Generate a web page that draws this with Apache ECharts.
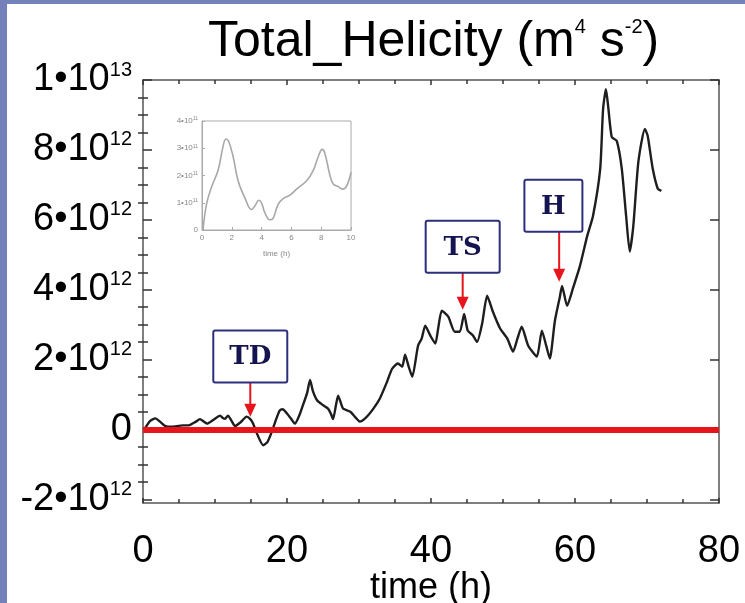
<!DOCTYPE html>
<html>
<head>
<meta charset="utf-8">
<script src="https://cdn.jsdelivr.net/npm/echarts@6/dist/echarts.min.js"></script>
<style>
  html, body { margin: 0; padding: 0; background: #ffffff; }
  #chart { width: 745px; height: 603px; }
</style>
</head>
<body>
<div id="chart"></div>
<script>
// ---------------- DATA ----------------
// Main curve: time in hours, total helicity in units of 1e12 m^4 s^-2
const HOURS = [0.0, 0.3, 1.0, 1.7, 2.4, 3.1, 4.0, 4.7, 5.6, 6.5, 7.3, 7.9, 8.5, 8.9, 9.8, 10.7, 11.1, 11.4, 11.8, 12.3,
  12.8, 13.5, 14.4, 14.9, 15.3, 15.9, 16.7, 17.3, 17.9, 18.5, 19.0, 19.4, 20.0, 20.6, 21.1, 21.7, 22.2, 22.8, 23.2, 23.6,
  24.2, 25.0, 25.7, 26.1, 26.4, 26.8, 27.1, 27.5, 27.8, 28.8, 29.5, 30.1, 31.0, 32.0, 32.9, 33.9, 34.6, 35.4, 36.0, 36.4,
  36.9, 37.4, 38.2, 38.7, 39.2, 39.9, 40.6, 41.0, 41.5, 42.4, 43.3, 44.0, 44.6, 45.1, 45.8, 46.4, 47.1, 47.8, 48.6, 49.6,
  50.6, 51.4, 52.0, 52.6, 53.5, 54.7, 55.4, 56.0, 56.5, 57.2, 57.9, 58.2, 58.9, 59.7, 60.7, 61.7, 62.5, 63.5, 63.9, 64.3,
  64.6, 65.1, 65.8, 66.5, 67.1, 67.6, 68.1, 68.8, 69.7, 70.1, 70.8, 71.5, 72.0];
const HELICITY = [0.0, 0.05, 0.25, 0.32, 0.22, 0.10, 0.08, 0.10, 0.12, 0.13, 0.22, 0.30, 0.22, 0.17, 0.28, 0.40, 0.33, 0.31, 0.40, 0.25,
  0.10, 0.20, 0.37, 0.30, 0.17, -0.15, -0.45, -0.35, -0.06, 0.30, 0.55, 0.58, 0.46, 0.30, 0.17, 0.40, 0.69, 1.05, 1.42, 1.10,
  0.83, 0.70, 0.60, 0.45, 0.30, 0.70, 0.97, 0.75, 0.60, 0.51, 0.35, 0.23, 0.35, 0.60, 0.89, 1.37, 1.74, 1.89, 1.80, 2.14,
  1.80, 1.51, 2.40, 2.60, 2.97, 2.69, 2.46, 2.90, 3.40, 3.23, 2.80, 2.80, 3.31, 2.83, 2.70, 2.51, 3.03, 3.83, 3.37, 2.89,
  2.60, 2.23, 2.60, 2.94, 2.40, 2.09, 2.83, 2.40, 2.03, 3.10, 3.80, 4.11, 3.54, 4.03, 4.69, 5.54, 6.11, 7.46, 9.17, 9.74,
  9.26, 8.37, 8.26, 7.46, 6.11, 5.09, 5.83, 7.66, 8.60, 8.40, 7.46, 6.89, 6.83];

// Inset: first 10 hours, in units of 1e11 m^4 s^-2
const INSET_HOURS = [0.07, 0.3, 0.63, 1.08, 1.41, 1.6, 1.79, 2.09, 2.42, 2.87, 3.32, 3.54, 3.81, 3.99, 4.22, 4.55,
  4.78, 5.11, 5.45, 5.9, 6.35, 7.02, 7.47, 7.8, 8.07, 8.25, 8.59, 8.81, 9.15, 9.44, 9.71, 10.0];
const INSET_HELICITY = [0.0, 0.94, 1.56, 2.19, 3.06, 3.34, 3.25, 2.69, 1.81, 1.19, 0.75, 0.87, 1.09, 1.0, 0.63, 0.375,
  0.44, 0.94, 1.15, 1.28, 1.5, 1.81, 2.19, 2.69, 2.96, 2.81, 2.0, 1.69, 1.59, 1.5, 1.62, 2.12];

// Tick labels
const Y_TICKS = [-2, 0, 2, 4, 6, 8, 10];
const Y_TICK_LABELS = ['-2•10^12', '0', '2•10^12', '4•10^12', '6•10^12', '8•10^12', '1•10^13'];
const INSET_Y_TICKS = [0, 1, 2, 3, 4];
const INSET_Y_TICK_LABELS = ['0', '1•10^11', '2•10^11', '3•10^11', '4•10^11'];

// Event annotations
const EVENTS = ['TD', 'TS', 'H'];
const EVENT_HOURS = [14.9, 44.4, 57.8];
const EVENT_TIP = [0.37, 3.43, 4.23];
const EVENT_BOX_HOURS = [14.9, 44.4, 57.0];
const EVENT_BOX_LEVEL = [2.09, 5.23, 6.4];

// ---------------- CHART ----------------
const FONT = '"Liberation Sans", Arial, sans-serif';
function sup(lbl) {
  const parts = lbl.split('^');
  return parts.length > 1 ? '{b|' + parts[0] + '}{s|' + parts[1] + '}' : '{b|' + parts[0] + '}';
}
const minorTicks = [];
for (let v = -2; v <= 10; v += 0.5) { if (Y_TICKS.indexOf(v) < 0) minorTicks.push(v); }

const chart = echarts.init(document.getElementById('chart'), null, { renderer: 'canvas' });
const AXIS_COLOR = '#555';
const mainYBase = {
  type: 'value', gridIndex: 0, min: -2.1, max: 10, splitLine: { show: false }
};
const option = {
  backgroundColor: '#ffffff',
  animation: false,
  title: {
    text: 'Total_Helicity (m{s|4} s{s|-2})',
    left: 203, top: 12,
    textStyle: {
      fontFamily: FONT, fontSize: 50, fontWeight: 'normal', color: '#000',
      rich: {
        s: { fontSize: 20, verticalAlign: 'top', fontFamily: FONT, color: '#000', padding: [0, 0, 20, 0] }
      }
    }
  },
  grid: [
    { left: 143, right: 26, top: 80, bottom: 100, show: false, outerBoundsMode: 'none', containLabel: false },
    { left: 202, top: 121, width: 149, height: 109, show: true, borderColor: '#aaa', borderWidth: 1, backgroundColor: '#fff', outerBoundsMode: 'none', containLabel: false }
  ],
  graphic: [
    { type: 'rect', z: 100, shape: { x: 0, y: 0, width: 745, height: 4 }, style: { fill: '#7481bb' } },
    { type: 'rect', z: 100, shape: { x: 0, y: 0, width: 7, height: 603 }, style: { fill: '#7481bb' } }
  ],
  xAxis: [
    {
      type: 'value', gridIndex: 0, min: 0, max: 80, interval: 20, position: 'bottom',
      axisLine: { show: true, onZero: false, lineStyle: { color: AXIS_COLOR, width: 1.5 } },
      axisTick: { show: true, inside: true, length: 5, lineStyle: { color: '#333', width: 1.5 } },
      minorTick: { show: true, splitNumber: 4, length: 4, lineStyle: { color: '#333', width: 1.5 } },
      splitLine: { show: false },
      axisLabel: { fontSize: 38, color: '#000', fontFamily: FONT, margin: 30 },
      name: 'time (h)', nameLocation: 'middle', nameGap: 67, nameMoveOverlap: false,
      nameTextStyle: { fontSize: 36, color: '#000', fontFamily: FONT }
    },
    {
      type: 'value', gridIndex: 0, min: 0, max: 80, interval: 20, position: 'top',
      axisLine: { show: true, onZero: false, lineStyle: { color: AXIS_COLOR, width: 1.5 } },
      axisTick: { show: true, inside: true, length: 5, lineStyle: { color: '#333', width: 1.5 } },
      minorTick: { show: true, splitNumber: 4, length: 4, lineStyle: { color: '#333', width: 1.5 } },
      splitLine: { show: false }, axisLabel: { show: false }
    },
    {
      type: 'value', gridIndex: 1, min: 0, max: 10, interval: 2, position: 'bottom',
      axisLine: { show: true, onZero: false, lineStyle: { color: '#aaa', width: 1 } },
      axisTick: { show: true, inside: true, length: 3, lineStyle: { color: '#aaa' } },
      splitLine: { show: false },
      axisLabel: { fontSize: 8, color: '#888', fontFamily: FONT, margin: 4 },
      name: 'time (h)', nameLocation: 'middle', nameGap: 20, nameMoveOverlap: false,
      nameTextStyle: { fontSize: 8, color: '#888', fontFamily: FONT }
    }
  ],
  yAxis: [
    Object.assign({}, mainYBase, {
      position: 'left',
      axisLine: { show: true, onZero: false, lineStyle: { color: AXIS_COLOR, width: 1.5 } },
      axisTick: { show: true, inside: true, length: 9, customValues: Y_TICKS, lineStyle: { color: '#333', width: 1.5 } },
      axisLabel: {
        customValues: Y_TICKS, margin: 11, color: '#000',
        formatter: function (v) { const i = Y_TICKS.indexOf(Math.round(v * 10) / 10); return i >= 0 ? sup(Y_TICK_LABELS[i]) : ''; },
        rich: {
          b: { fontSize: 38, fontFamily: FONT, color: '#000', lineHeight: 40 },
          s: { fontSize: 20, fontFamily: FONT, color: '#000', verticalAlign: 'top', padding: [0, 0, 16, 0] }
        }
      }
    }),
    Object.assign({}, mainYBase, {
      position: 'left',
      axisLine: { show: false },
      axisTick: { show: true, inside: true, length: 5, customValues: minorTicks, lineStyle: { color: '#333', width: 1.5 } },
      axisLabel: { show: false }
    }),
    Object.assign({}, mainYBase, {
      position: 'right',
      axisLine: { show: true, onZero: false, lineStyle: { color: AXIS_COLOR, width: 1.5 } },
      axisTick: { show: true, inside: true, length: 9, customValues: Y_TICKS, lineStyle: { color: '#333', width: 1.5 } },
      axisLabel: { show: false }
    }),
    Object.assign({}, mainYBase, {
      position: 'right',
      axisLine: { show: false },
      axisTick: { show: true, inside: true, length: 5, customValues: minorTicks, lineStyle: { color: '#333', width: 1.5 } },
      axisLabel: { show: false }
    }),
    {
      type: 'value', gridIndex: 1, min: 0, max: 4, interval: 1, position: 'left',
      axisLine: { show: true, onZero: false, lineStyle: { color: '#aaa', width: 1 } },
      axisTick: { show: true, inside: true, length: 3, lineStyle: { color: '#aaa' } },
      splitLine: { show: false },
      axisLabel: {
        margin: 4, color: '#888',
        formatter: function (v) { const i = INSET_Y_TICKS.indexOf(v); return i >= 0 ? sup(INSET_Y_TICK_LABELS[i]) : ''; },
        rich: {
          b: { fontSize: 8, fontFamily: FONT, color: '#888' },
          s: { fontSize: 5, fontFamily: FONT, color: '#888', verticalAlign: 'top', padding: [0, 0, 4, 0] }
        }
      }
    }
  ],
  series: [
    {
      name: 'Total helicity', type: 'line', xAxisIndex: 0, yAxisIndex: 0, z: 2,
      data: HOURS.map((t, i) => [t, HELICITY[i]]),
      showSymbol: false, smooth: 0.2,
      lineStyle: { color: '#1e1e1e', width: 2.4 }
    },
    {
      name: 'zero', type: 'line', xAxisIndex: 0, yAxisIndex: 0, z: 3, data: [],
      markLine: {
        silent: true, symbol: 'none', label: { show: false },
        lineStyle: { color: '#e8141b', width: 6, type: 'solid' },
        data: [{ yAxis: 0 }]
      }
    },
    {
      name: 'Inset', type: 'line', xAxisIndex: 2, yAxisIndex: 4, z: 2,
      data: INSET_HOURS.map((t, i) => [t, INSET_HELICITY[i]]),
      showSymbol: false, smooth: 0.4,
      lineStyle: { color: '#a8a8a8', width: 1.6 }
    },
    {
      name: 'events', type: 'custom', xAxisIndex: 0, yAxisIndex: 0, z: 10,
      data: EVENTS.map((n, i) => [EVENT_HOURS[i], EVENT_TIP[i], EVENT_BOX_HOURS[i], EVENT_BOX_LEVEL[i]]),
      renderItem: function (params, api) {
        const tip = api.coord([api.value(0), api.value(1)]);
        const box = api.coord([api.value(2), api.value(3)]);
        const name = EVENTS[params.dataIndex];
        const bh = 52, bw = name.length > 1 ? 74 : 58;
        return {
          type: 'group', children: [
            { type: 'line', shape: { x1: tip[0], y1: box[1] + bh / 2, x2: tip[0], y2: tip[1] - 10 }, style: { stroke: '#e8141b', lineWidth: 2 } },
            { type: 'polygon', shape: { points: [[tip[0] - 6, tip[1] - 13], [tip[0] + 6, tip[1] - 13], [tip[0], tip[1]]] }, style: { fill: '#e8141b' } },
            { type: 'rect', shape: { x: box[0] - bw / 2, y: box[1] - bh / 2, width: bw, height: bh, r: 2 }, style: { fill: '#fff', stroke: '#2e2e7e', lineWidth: 2 } },
            { type: 'text', style: { text: name, x: box[0], y: box[1] + 1, align: 'center', verticalAlign: 'middle', fill: '#141450', font: 'bold 26px "DejaVu Serif"' } }
          ]
        };
      }
    }
  ]
};
chart.setOption(option);
</script>
</body>
</html>
